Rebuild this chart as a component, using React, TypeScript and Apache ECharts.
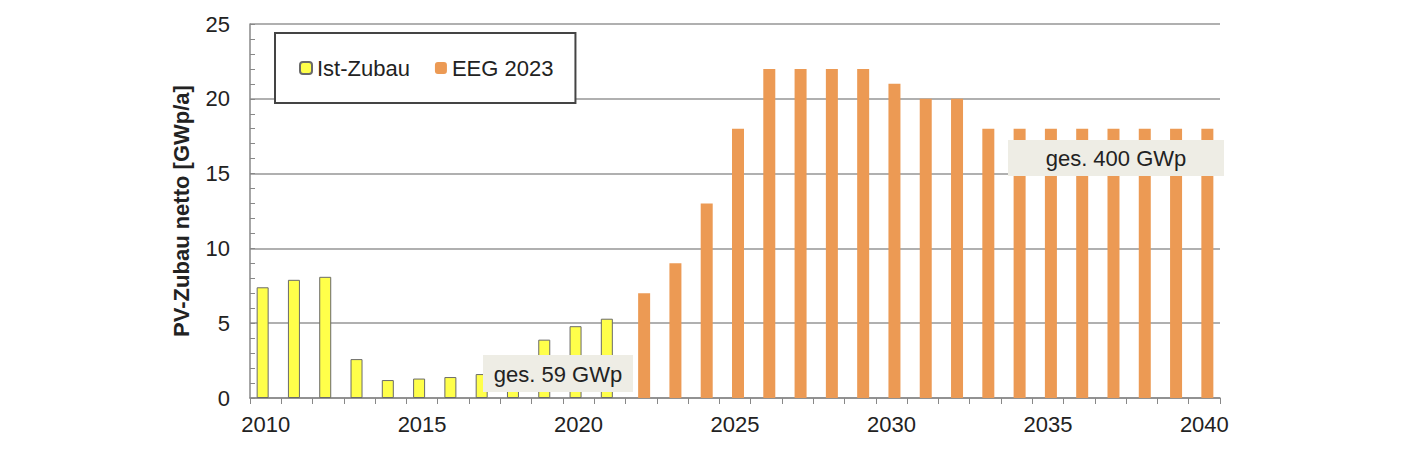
import React, { useEffect, useRef } from "react";
import * as echarts from "echarts";

const years: string[] = [];
for (let y = 2010; y <= 2040; y++) years.push(String(y));

const istZubau: (number | null)[] = [
  7.4, 7.9, 8.1, 2.6, 1.2, 1.3, 1.4, 1.6, 2.8, 3.9, 4.8, 5.3,
  null, null, null, null, null, null, null, null, null, null, null, null, null, null, null, null, null, null, null,
];
const eeg2023: (number | null)[] = [
  null, null, null, null, null, null, null, null, null, null, null, null,
  7, 9, 13, 18, 22, 22, 22, 22, 21, 20, 20, 18, 18, 18, 18, 18, 18, 18, 18,
];
const yTicks = [0, 5, 10, 15, 20, 25];
const annotations = ["ges. 59 GWp", "ges. 400 GWp"];

const FONT = "'Liberation Sans', Arial, sans-serif";
const FS = 22;

export default function App() {
  const ref = useRef<HTMLDivElement>(null);
  useEffect(() => {
    if (!ref.current) return;
    const chart = echarts.init(ref.current, undefined, { renderer: "svg" });
    chart.setOption({
      animation: false,
      backgroundColor: "#ffffff",
      textStyle: { fontFamily: FONT },
      grid: { left: 250, right: 181, top: 24, bottom: 66 },
      legend: {
        left: 275,
        top: 33,
        padding: [24, 22, 24, 24],
        borderColor: "#444",
        borderWidth: 2,
        backgroundColor: "#fff",
        itemWidth: 12,
        itemHeight: 12,
        itemGap: 25,
        textStyle: { fontSize: FS, color: "#222", fontFamily: FONT },
        data: ["Ist-Zubau", "EEG 2023"],
      },
      xAxis: {
        type: "category",
        data: years,
        boundaryGap: true,
        axisLine: { lineStyle: { color: "#888", width: 1.5 } },
        axisTick: { show: true, alignWithLabel: false, interval: 0, length: 6, lineStyle: { color: "#888" } },
        axisLabel: {
          interval: (i: number) => i % 5 === 0,
          fontSize: FS,
          color: "#222",
          margin: 15,
          fontFamily: FONT,
        },
        splitLine: { show: false },
      },
      yAxis: {
        type: "value",
        min: yTicks[0],
        max: yTicks[yTicks.length - 1],
        interval: 5,
        axisLine: { show: true, lineStyle: { color: "#888", width: 1.5 } },
        axisTick: { show: true, inside: true, length: 5, lineStyle: { color: "#888" } },
        minorTick: { show: true, splitNumber: 5, length: 5, lineStyle: { color: "#888" } },
        axisLabel: { fontSize: FS, color: "#222", margin: 20, fontFamily: FONT },
        splitLine: { show: true, lineStyle: { color: "#b0b0b0", width: 2 } },
        name: "PV-Zubau netto [GWp/a]",
        nameLocation: "middle",
        nameGap: 58,
        nameTextStyle: { fontSize: FS, fontWeight: "bold", color: "#222", fontFamily: FONT },
      },
      series: [
        {
          name: "Ist-Zubau",
          type: "bar",
          data: istZubau,
          barWidth: 12,
          barGap: "-50%",
          itemStyle: { color: "#ffff4a", borderColor: "#6a6a6a", borderWidth: 1 },
        },
        {
          name: "EEG 2023",
          type: "bar",
          data: eeg2023,
          barWidth: 12,
          itemStyle: { color: "#ec9a54" },
        },
      ],
      graphic: [
        {
          type: "group",
          left: 483,
          top: 355,
          z: 100,
          children: [
            { type: "rect", z: 100, shape: { x: 0, y: 0, width: 150, height: 37 }, style: { fill: "#eeede5" } },
            {
              type: "text",
              z: 101,
              style: {
                x: 75,
                y: 19,
                text: annotations[0],
                fontSize: FS,
                fill: "#222",
                fontFamily: FONT,
                align: "center",
                verticalAlign: "middle",
              },
            },
          ],
        },
        {
          type: "group",
          left: 1008,
          top: 140,
          z: 100,
          children: [
            { type: "rect", z: 100, shape: { x: 0, y: 0, width: 216, height: 36 }, style: { fill: "#eeede5" } },
            {
              type: "text",
              z: 101,
              style: {
                x: 108,
                y: 18,
                text: annotations[1],
                fontSize: FS,
                fill: "#222",
                fontFamily: FONT,
                align: "center",
                verticalAlign: "middle",
              },
            },
          ],
        },
      ],
    });
    return () => chart.dispose();
  }, []);
  return (
    <div
      ref={ref}
      style={{ position: "fixed", left: 0, top: 0, width: 1401, height: 464 }}
    />
  );
}
